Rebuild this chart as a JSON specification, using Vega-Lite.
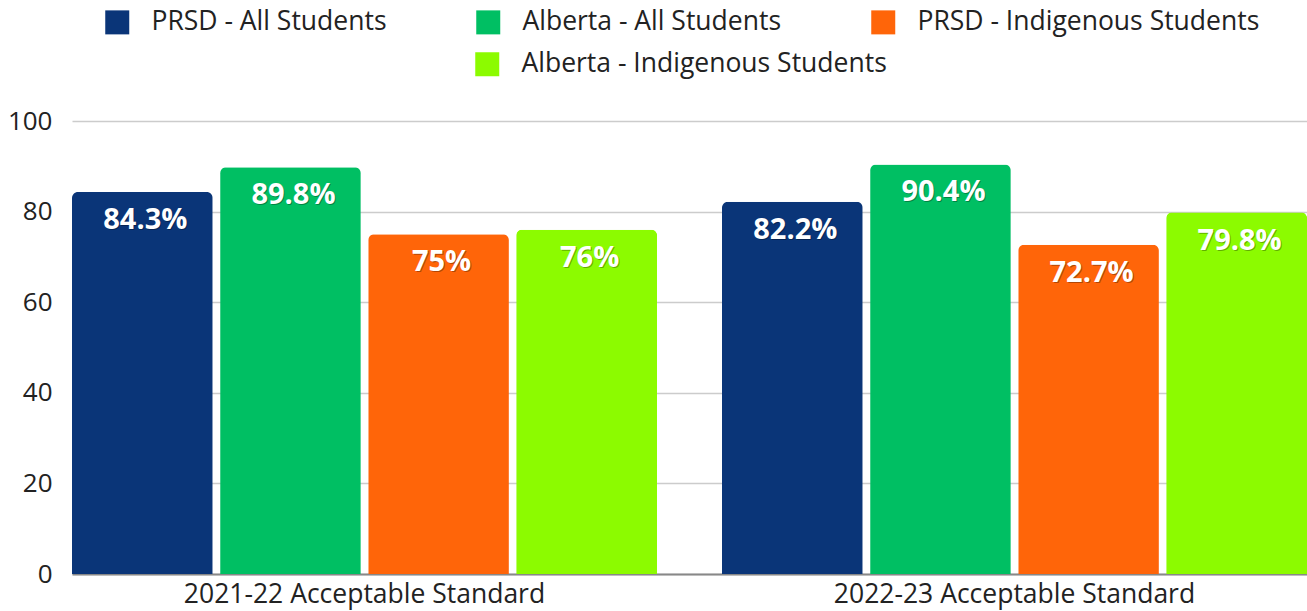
{
  "$schema": "https://vega.github.io/schema/vega-lite/v6.json",
  "autosize": "none",
  "width": 1235,
  "height": 453,
  "padding": {"left": 72, "top": 121, "right": 0, "bottom": 37},
  "background": "white",
  "config": {
    "view": {"stroke": null},
    "font": "Open Sans",
    "legend": {"padding": 0}
  },
  "data": {
    "values": [
      {"period": "2021-22 Acceptable Standard", "series": "PRSD - All Students", "value": 84.3, "label": "84.3%"},
      {"period": "2021-22 Acceptable Standard", "series": "Alberta - All Students", "value": 89.8, "label": "89.8%"},
      {"period": "2021-22 Acceptable Standard", "series": "PRSD - Indigenous Students", "value": 75, "label": "75%"},
      {"period": "2021-22 Acceptable Standard", "series": "Alberta - Indigenous Students", "value": 76, "label": "76%"},
      {"period": "2022-23 Acceptable Standard", "series": "PRSD - All Students", "value": 82.2, "label": "82.2%"},
      {"period": "2022-23 Acceptable Standard", "series": "Alberta - All Students", "value": 90.4, "label": "90.4%"},
      {"period": "2022-23 Acceptable Standard", "series": "PRSD - Indigenous Students", "value": 72.7, "label": "72.7%"},
      {"period": "2022-23 Acceptable Standard", "series": "Alberta - Indigenous Students", "value": 79.8, "label": "79.8%"}
    ]
  },
  "encoding": {
    "x": {
      "field": "period",
      "type": "nominal",
      "scale": {"paddingInner": 0.1, "paddingOuter": 0},
      "axis": {
        "title": null,
        "labelAngle": 0,
        "labelFont": "Open Sans",
        "labelFontSize": 26.5,
        "labelColor": "#222222",
        "labelPadding": 7,
        "labelLimit": 600,
        "ticks": false,
        "domainColor": "#888888",
        "domainWidth": 2
      }
    },
    "xOffset": {
      "field": "series",
      "type": "nominal",
      "scale": {
        "domain": ["PRSD - All Students", "Alberta - All Students", "PRSD - Indigenous Students", "Alberta - Indigenous Students"],
        "paddingInner": 0.05,
        "paddingOuter": 0
      }
    },
    "y": {
      "field": "value",
      "type": "quantitative",
      "scale": {"domain": [0, 100], "nice": false},
      "axis": {
        "title": null,
        "values": [0, 20, 40, 60, 80, 100],
        "labelFont": "Open Sans",
        "labelFontSize": 26,
        "labelColor": "#222222",
        "labelPadding": 20,
        "ticks": false,
        "domain": false,
        "gridColor": "#cccccc",
        "gridWidth": 1.5
      }
    }
  },
  "layer": [
    {
      "mark": {"type": "bar", "cornerRadiusTopLeft": 6, "cornerRadiusTopRight": 6},
      "encoding": {
        "color": {
          "field": "series",
          "type": "nominal",
          "scale": {
            "domain": ["PRSD - All Students", "Alberta - All Students", "PRSD - Indigenous Students", "Alberta - Indigenous Students"],
            "range": ["#0a3578", "#00bf63", "#ff6509", "#8cfb00"]
          },
          "legend": {
            "title": null,
            "orient": "none",
            "legendX": 32,
            "legendY": -112,
            "direction": "horizontal",
            "values": ["PRSD - All Students", "Alberta - All Students", "PRSD - Indigenous Students"],
            "symbolType": "square",
            "symbolSize": 576,
            "symbolStrokeWidth": 0,
            "symbolOpacity": 1,
            "labelFont": "Open Sans",
            "labelFontSize": 26.5,
            "labelColor": "#222222",
            "labelOffset": 21,
            "columnPadding": 88,
            "labelLimit": 500
          }
        }
      }
    },
    {
      "transform": [{"filter": "datum.series === 'Alberta - Indigenous Students'"}],
      "mark": {"type": "bar", "cornerRadiusTopLeft": 6, "cornerRadiusTopRight": 6},
      "encoding": {
        "color": {
          "field": "series",
          "type": "nominal",
          "scale": {"domain": ["Alberta - Indigenous Students"], "range": ["#8cfb00"]},
          "legend": {
            "title": null,
            "orient": "none",
            "legendX": 402,
            "legendY": -70,
            "direction": "horizontal",
            "symbolType": "square",
            "symbolSize": 576,
            "symbolStrokeWidth": 0,
            "symbolOpacity": 1,
            "labelFont": "Open Sans",
            "labelFontSize": 26.5,
            "labelColor": "#222222",
            "labelOffset": 21,
            "labelLimit": 500
          }
        }
      }
    },
    {
      "mark": {"type": "text", "baseline": "middle", "align": "center", "dy": 29, "dx": 4, "font": "Open Sans", "fontWeight": "bold", "fontSize": 29, "color": "#000000", "opacity": 0.3},
      "encoding": {"text": {"field": "label"}}
    },
    {
      "mark": {"type": "text", "baseline": "middle", "align": "center", "dy": 28, "dx": 3, "font": "Open Sans", "fontWeight": "bold", "fontSize": 29, "color": "#ffffff"},
      "encoding": {"text": {"field": "label"}}
    }
  ],
  "resolve": {"scale": {"color": "independent"}, "legend": {"color": "independent"}}
}
